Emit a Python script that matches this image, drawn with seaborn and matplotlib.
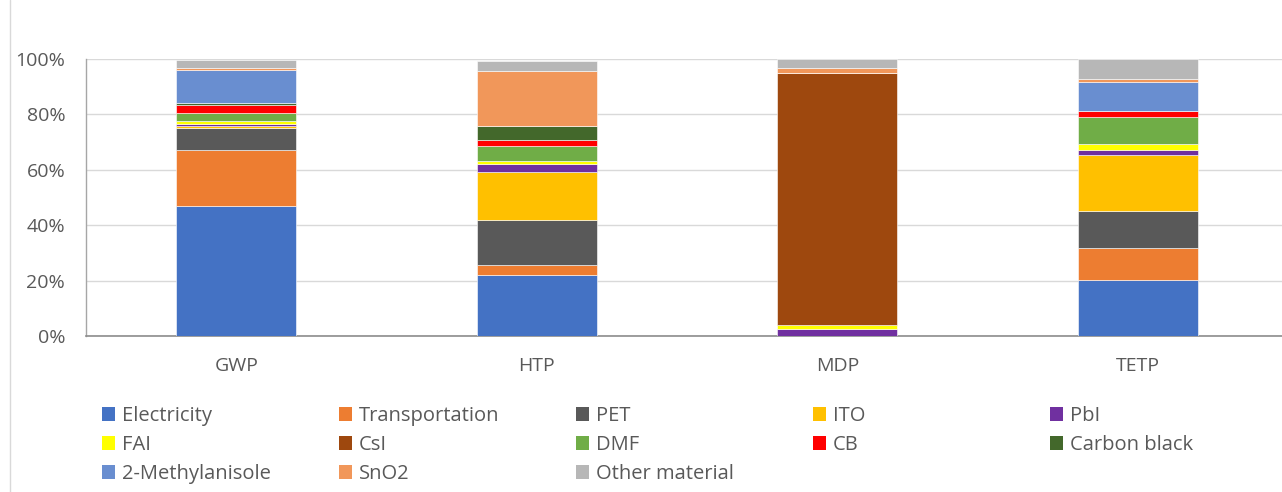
import matplotlib
matplotlib.use("Agg")
import matplotlib.pyplot as plt
from matplotlib.lines import Line2D
from matplotlib.patches import Patch
from matplotlib.ticker import FuncFormatter
import numpy as np
import pandas as pd
import seaborn as sns

# Impact categories on the x axis
categories = ["GWP", "HTP", "MDP", "TETP"]

# Contribution of each input to each impact category (%), bottom to top
electricity = [46.8, 22.0, 0.0, 20.1]
transportation = [20.2, 3.5, 0.0, 11.6]
pet = [8.1, 16.3, 0.0, 13.5]
ito = [0.6, 17.4, 0.0, 20.1]
pbi = [0.9, 2.8, 2.6, 1.8]
fai = [1.0, 1.3, 1.4, 2.3]
csi = [0.0, 0.0, 90.9, 0.0]
dmf = [2.9, 5.3, 0.0, 9.5]
cb = [3.0, 2.0, 0.0, 2.3]
carbon_black = [0.7, 5.2, 0.0, 0.2]
methylanisole = [11.8, 0.1, 0.0, 10.3]
sno2 = [0.7, 19.9, 1.8, 1.0]
other_material = [3.1, 3.4, 3.3, 7.2]

component_names = ["Electricity", "Transportation", "PET", "ITO", "PbI", "FAI",
                   "CsI", "DMF", "CB", "Carbon black", "2-Methylanisole",
                   "SnO2", "Other material"]
component_values = [electricity, transportation, pet, ito, pbi, fai, csi, dmf,
                    cb, carbon_black, methylanisole, sno2, other_material]
component_colors = ["#4472C4", "#ED7D31", "#595959", "#FFC000", "#7030A0",
                    "#FFFF00", "#9E480E", "#70AD47", "#FF0000", "#43682B",
                    "#698ED0", "#F1975A", "#B7B7B7"]

y_ticks = [0, 20, 40, 60, 80, 100]

sns.set_theme(style="white")
plt.rcParams["font.family"] = ["Open Sans", "DejaVu Sans"]
text_color = "#595959"

fig = plt.figure(figsize=(12.82, 4.92), dpi=100)
ax = fig.add_axes([86 / 1282, 156 / 492, 1202 / 1282, 277 / 492])

# Stacked bars, one seaborn call per component
bottoms = np.zeros(len(categories))
for name, vals, color in zip(component_names, component_values, component_colors):
    df = pd.DataFrame({"category": categories, "value": vals})
    sns.barplot(data=df, x="category", y="value", order=categories,
                color=color, width=0.4, bottom=bottoms, ax=ax,
                edgecolor="white", linewidth=0.4, saturation=1, errorbar=None,
                zorder=3)
    bottoms = bottoms + np.array(vals)

ax.set_xlim(-0.5, len(categories) - 0.5)
ax.set_ylim(0, 100)
ax.set_yticks(y_ticks)
ax.yaxis.set_major_formatter(FuncFormatter(lambda v, p: f"{v:.0f}%"))
ax.set_xlabel("")
ax.set_ylabel("")

ax.grid(axis="y", color="#D9D9D9", linewidth=1.0, zorder=0)
ax.set_axisbelow(True)
for side in ["top", "right"]:
    ax.spines[side].set_visible(False)
ax.spines["left"].set_color("#A6A6A6")
ax.spines["left"].set_linewidth(1.0)
ax.spines["bottom"].set_color("#8C8C8C")
ax.spines["bottom"].set_linewidth(1.2)

ax.tick_params(axis="y", length=0, pad=15, labelsize=14, labelcolor=text_color)
ax.tick_params(axis="x", length=0, pad=15, labelsize=14, labelcolor=text_color)

# Thin frame line along the left edge of the chart area
fig.add_artist(Line2D([10 / 1282, 10 / 1282], [0, 1], transform=fig.transFigure,
                      color="#D9D9D9", linewidth=1.0))

# Legend laid out row by row in five columns
handles = [Patch(facecolor=c, edgecolor="none") for c in component_colors]
ncols = 5
col_x = [102, 339, 576, 813, 1050]
for j in range(ncols):
    idx = list(range(j, len(component_names), ncols))
    leg = fig.legend([handles[i] for i in idx], [component_names[i] for i in idx],
                     loc="upper left",
                     bbox_to_anchor=(col_x[j] / 1282, 1 - 406 / 492),
                     frameon=False, fontsize=14.5, handlelength=0.65,
                     handleheight=0.65, handletextpad=0.35, labelspacing=0.45,
                     borderpad=0, borderaxespad=0)
    for t in leg.get_texts():
        t.set_color(text_color)

fig.savefig("out.png", dpi=100)
